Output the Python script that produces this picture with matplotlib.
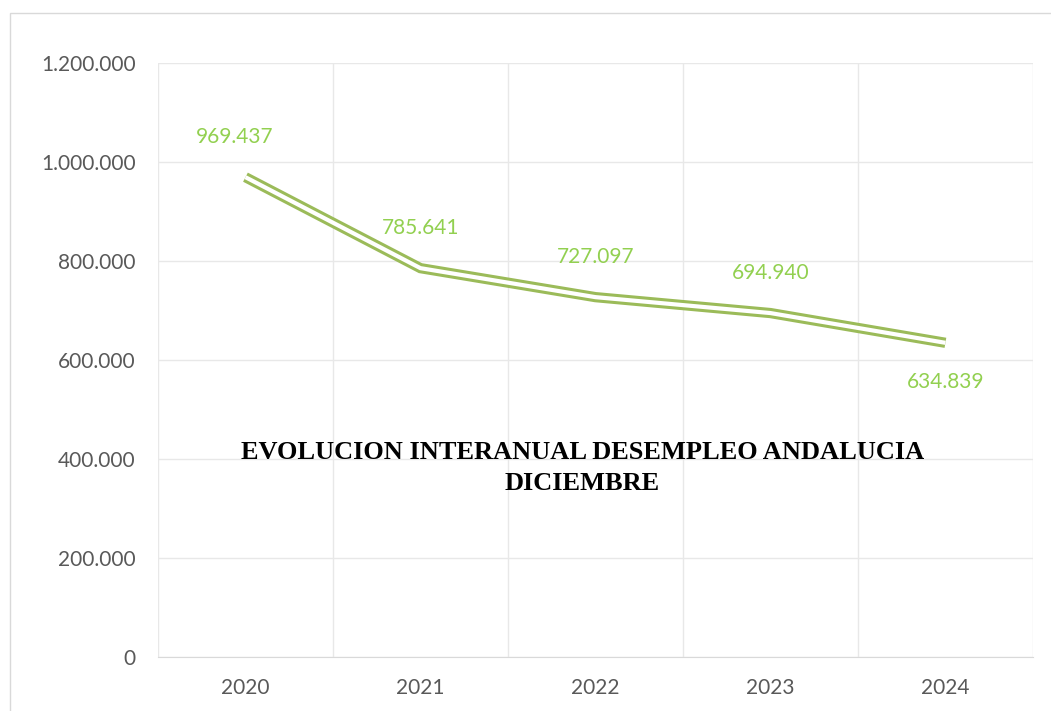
import matplotlib.pyplot as plt
from matplotlib.patches import Rectangle

# Data
years = ["2020", "2021", "2022", "2023", "2024"]
parados = [969437, 785641, 727097, 694940, 634839]
label_side = ["above", "above", "above", "above", "below"]
yticks = [0, 200000, 400000, 600000, 800000, 1000000, 1200000]

LINE_GREEN = "#9bbb59"
LABEL_GREEN = "#92d050"
GRID = "#e8e8e8"
TEXT_GREY = "#595959"


def miles(v):
    """Format with dot as thousands separator."""
    return f"{v:,}".replace(",", ".")


def main():
    plt.rcParams['font.family'] = ['Lato', 'DejaVu Sans']
    fig = plt.figure(figsize=(10.51, 7.11), dpi=100)
    ax = fig.add_axes([0.1503, 0.0759, 0.8325, 0.8354])

    # outer chart border (left and top visible)
    fig.patches.append(Rectangle((10 / 1051, -0.05), 1.2, (711 - 13) / 711 + 0.05,
                                 transform=fig.transFigure, fill=False,
                                 edgecolor="#d9d9d9", linewidth=1.0))

    x = list(range(len(years)))
    # double line: thick green with a white core
    ax.plot(x, parados, color=LINE_GREEN, linewidth=7.4, solid_capstyle='butt',
            solid_joinstyle='miter', zorder=3)
    ax.plot(x, parados, color="white", linewidth=3.0, solid_capstyle='butt',
            solid_joinstyle='miter', zorder=4)

    for xi, v, side in zip(x, parados, label_side):
        off = 40 if side == "above" else -39
        ax.annotate(miles(v), (xi, v), xytext=(-11 if xi == 0 else 0, off),
                    textcoords='offset pixels', ha='center', va='center',
                    color=LABEL_GREEN, fontsize=15, zorder=5)

    ax.set_xlim(-0.5, len(years) - 0.5)
    ax.set_ylim(0, 1200000)
    ax.set_xticks(x)
    ax.set_xticklabels(years)
    ax.set_xticks([i - 0.5 for i in range(len(years) + 1)], minor=True)
    ax.set_yticks(yticks)
    ax.set_yticklabels([miles(v) for v in yticks])
    ax.tick_params(axis='both', which='both', length=0, colors=TEXT_GREY, labelsize=15)
    ax.tick_params(axis='y', pad=16)
    ax.tick_params(axis='x', pad=15)

    ax.grid(True, axis='y', which='major', color=GRID, linewidth=1.0)
    ax.grid(True, axis='x', which='minor', color=GRID, linewidth=1.0)
    ax.set_axisbelow(True)
    for s in ['left', 'right', 'top']:
        ax.spines[s].set_visible(False)
    ax.spines['bottom'].set_color("#d9d9d9")

    ax.text(0.485, 0.318, "EVOLUCION INTERANUAL DESEMPLEO ANDALUCIA\nDICIEMBRE",
            transform=ax.transAxes, ha='center', va='center', fontsize=19,
            fontweight='bold', family=['Liberation Serif', 'DejaVu Serif'],
            linespacing=1.45, zorder=6)

    fig.savefig("out.png", dpi=100, facecolor="white")


if __name__ == "__main__":
    main()
